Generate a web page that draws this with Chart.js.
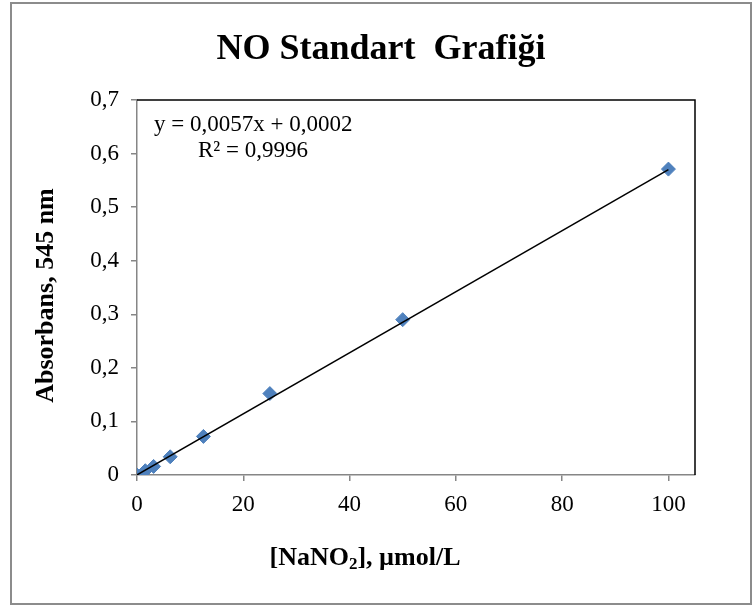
<!DOCTYPE html>
<html>
<head>
<meta charset="utf-8">
<script src="https://cdn.jsdelivr.net/npm/chart.js@4/dist/chart.umd.min.js"></script>
<style>
  html, body { margin: 0; padding: 0; background: #fff; }
  #wrap { width: 754px; height: 607px; position: relative; }
</style>
</head>
<body>
<div id="wrap"><canvas id="chart" width="754" height="607"></canvas></div>
<script>
// Veriler
const concentrations = [0, 1.5625, 3.125, 6.25, 12.5, 25, 50, 100];
const absorbances = [0, 0.008, 0.016, 0.034, 0.072, 0.152, 0.290, 0.571];
const trendX = [0, 100];
const trendY = [0.0002, 0.5702];
const xTicks = [0, 20, 40, 60, 80, 100];
const equationLines = ['y = 0,0057x + 0,0002', 'R² = 0,9996'];
const chartTitle = 'NO Standart  Grafiği';
const yTitle = 'Absorbans, 545 nm';
const xTitleParts = ['[NaNO', '2', '], µmol/L'];

const COLOR_MARKER = '#4F81BD';
const FONT_FAMILY = '"Liberation Serif", "Times New Roman", serif';

// Başlıklar, çerçeve ve denklem yazısı
const framePlugin = {
  id: 'frame',
  afterDatasetsDraw(chart) {
    const { ctx, chartArea: a } = chart;
    ctx.save();
    ctx.strokeStyle = '#000';
    ctx.lineWidth = 1.5;
    ctx.beginPath();
    ctx.moveTo(a.left, a.top);
    ctx.lineTo(a.right, a.top);
    ctx.lineTo(a.right, a.bottom);
    ctx.stroke();

    ctx.fillStyle = '#000';
    ctx.font = '23px ' + FONT_FAMILY;
    ctx.textBaseline = 'middle';
    ctx.fillText(equationLines[0], a.left + 17, a.top + 25);
    ctx.fillText(equationLines[1], a.left + 61, a.top + 51);
    ctx.restore();
  },
  afterDraw(chart) {
    const { ctx, chartArea: a } = chart;
    ctx.save();
    ctx.fillStyle = '#000';
    ctx.textBaseline = 'middle';

    // ana başlık
    ctx.textAlign = 'center';
    ctx.font = 'bold 36px ' + FONT_FAMILY;
    ctx.fillText(chartTitle, 381, a.top - 50);

    // y ekseni başlığı
    ctx.font = 'bold 26px ' + FONT_FAMILY;
    ctx.save();
    ctx.translate(46, (a.top + a.bottom) / 2 + 8);
    ctx.rotate(-Math.PI / 2);
    ctx.fillText(yTitle, 0, 0);
    ctx.restore();

    // x ekseni başlığı (alt simgeli)
    ctx.textAlign = 'left';
    const bigFont = 'bold 26px ' + FONT_FAMILY;
    const subFont = 'bold 17px ' + FONT_FAMILY;
    ctx.font = bigFont;
    const w0 = ctx.measureText(xTitleParts[0]).width;
    const w2 = ctx.measureText(xTitleParts[2]).width;
    ctx.font = subFont;
    const w1 = ctx.measureText(xTitleParts[1]).width;
    const total = w0 + w1 + w2;
    let tx = 365 - total / 2;
    const ty = a.bottom + 83;
    ctx.font = bigFont;
    ctx.fillText(xTitleParts[0], tx, ty);
    tx += w0;
    ctx.font = subFont;
    ctx.fillText(xTitleParts[1], tx, ty + 7);
    tx += w1;
    ctx.font = bigFont;
    ctx.fillText(xTitleParts[2], tx, ty);

    // dış çerçeve
    ctx.strokeStyle = '#8c8c8c';
    ctx.lineWidth = 2;
    ctx.strokeRect(11, 3, 740, 601);
    ctx.restore();
  }
};

const ctx = document.getElementById('chart').getContext('2d');
new Chart(ctx, {
  type: 'scatter',
  data: {
    datasets: [
      {
        type: 'line',
        label: 'Trend',
        data: trendX.map((x, i) => ({ x: x, y: trendY[i] })),
        borderColor: '#000',
        borderWidth: 1.5,
        pointRadius: 0,
        fill: false
      },
      {
        label: 'NO',
        data: concentrations.map((x, i) => ({ x: x, y: absorbances[i] })),
        pointStyle: 'rectRot',
        pointRadius: 7,
        pointHoverRadius: 7,
        backgroundColor: COLOR_MARKER,
        borderColor: COLOR_MARKER,
        borderWidth: 1
      }
    ]
  },
  options: {
    responsive: false,
    animation: false,
    layout: { padding: { left: 20, right: 59, top: 100, bottom: 0 } },
    plugins: {
      legend: { display: false },
      tooltip: { enabled: false },
      title: { display: false }
    },
    scales: {
      x: {
        type: 'linear',
        min: 0,
        max: 105,
        afterBuildTicks: function (scale) {
          scale.ticks = xTicks.map(v => ({ value: v }));
        },
        afterFit: function (scale) { scale.height = 132; },
        grid: {
          display: true,
          drawOnChartArea: false,
          drawTicks: true,
          tickLength: 6,
          color: '#868686',
          lineWidth: 1.5
        },
        border: { color: '#868686', width: 1.5 },
        ticks: {
          color: '#000',
          padding: 10,
          font: { family: FONT_FAMILY, size: 23 }
        }
      },
      y: {
        type: 'linear',
        min: 0,
        max: 0.7,
        afterFit: function (scale) { scale.width = 117; },
        grid: {
          display: true,
          drawOnChartArea: false,
          drawTicks: true,
          tickLength: 6,
          color: '#868686',
          lineWidth: 1.5
        },
        border: { color: '#868686', width: 1.5 },
        ticks: {
          stepSize: 0.1,
          color: '#000',
          padding: 12,
          font: { family: FONT_FAMILY, size: 23 },
          callback: function (value) {
            if (value === 0) return '0';
            return value.toFixed(1).replace('.', ',');
          }
        }
      }
    }
  },
  plugins: [framePlugin]
});
</script>
</body>
</html>
